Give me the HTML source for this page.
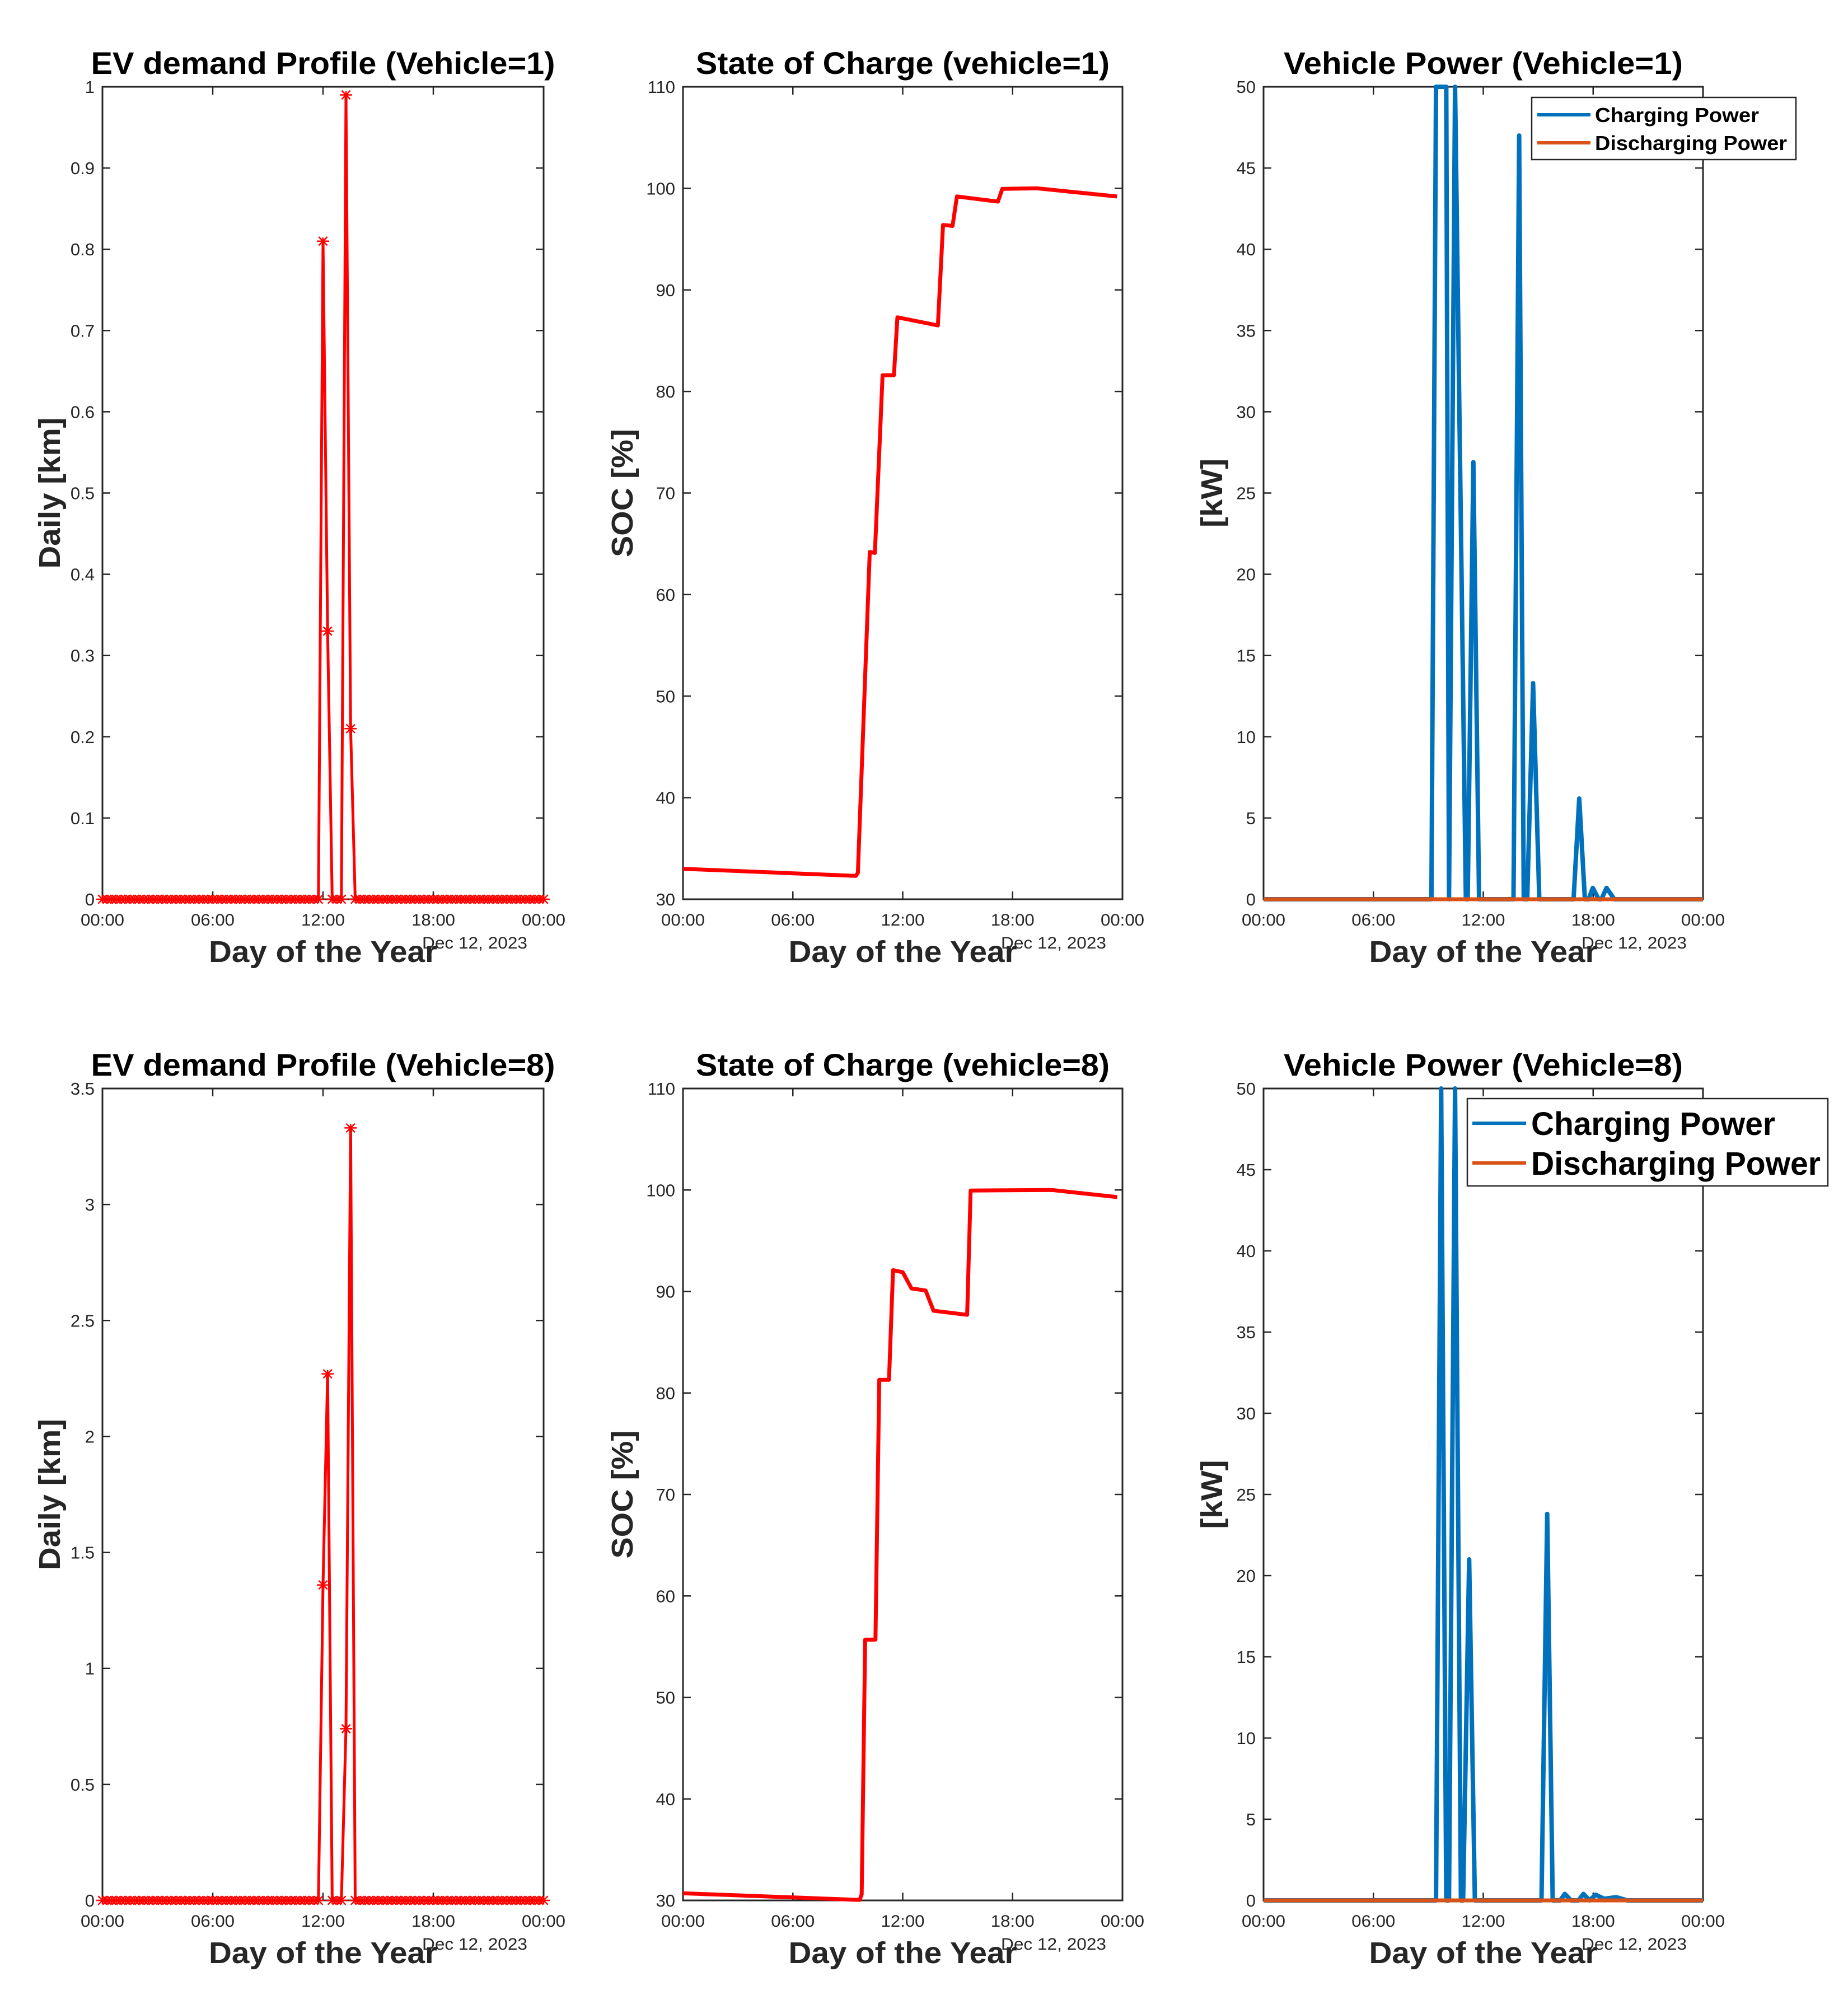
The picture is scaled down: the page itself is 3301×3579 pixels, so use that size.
<!DOCTYPE html>
<html><head><meta charset="utf-8"><style>
html,body{margin:0;padding:0;background:#fff;}
svg{display:block;font-family:"Liberation Sans",Arial,sans-serif;}
</style></head><body>
<svg id="fig" width="3301" height="3579" viewBox="0 0 3301 3579" xmlns="http://www.w3.org/2000/svg">
<rect x="0" y="0" width="3301" height="3579" fill="#fff"/>
</svg>
<script>
// ---- Data ----
const xTickHours = [0, 6, 12, 18, 24];
const xTickLabels = ["00:00", "06:00", "12:00", "18:00", "00:00"];
const ev1Ticks = [0,0.1,0.2,0.3,0.4,0.5,0.6,0.7,0.8,0.9,1];
const ev1TickLabels = ["0","0.1","0.2","0.3","0.4","0.5","0.6","0.7","0.8","0.9","1"];
const ev8Ticks = [0,0.5,1,1.5,2,2.5,3,3.5];
const ev8TickLabels = ["0","0.5","1","1.5","2","2.5","3","3.5"];
const socTicks = [30,40,50,60,70,80,90,100,110];
const socTickLabels = ["30","40","50","60","70","80","90","100","110"];
const powTicks = [0,5,10,15,20,25,30,35,40,45,50];
const powTickLabels = ["0","5","10","15","20","25","30","35","40","45","50"];
// EV demand: nonzero values at 15-min slots (hour -> km), others 0
const ev1NonzeroHours = [12.0, 12.25, 13.25, 13.5];
const ev1NonzeroValues = [0.81, 0.33, 0.99, 0.21];
const ev8NonzeroHours = [12.0, 12.25, 13.25, 13.5];
const ev8NonzeroValues = [1.36, 2.27, 0.74, 3.33];
// SOC
const soc1Hours = [0,9.44,9.55,10.2,10.48,10.9,11.52,11.71,13.92,14.2,14.72,14.96,17.2,17.44,19.36,23.7];
const soc1Values = [33.0,32.3,32.6,64.2,64.1,81.6,81.6,87.3,86.5,96.4,96.3,99.2,98.7,99.95,100,99.2];
const soc8Hours = [0,9.65,9.76,9.95,10.51,10.72,11.25,11.47,12.0,12.48,13.25,13.68,15.52,15.71,20.16,23.71];
const soc8Values = [30.7,30.05,30.6,55.7,55.7,81.3,81.3,92.1,91.9,90.3,90.1,88.1,87.7,99.95,100,99.3];
// Power
const pow1Hours = [0,9.17,9.42,9.98,10.13,10.46,11.05,11.15,11.46,11.77,13.65,13.96,14.21,14.4,14.72,15.06,16.93,17.24,17.55,17.75,17.98,18.3,18.45,18.73,19.16,24];
const pow1Values = [0,0,50,50,0,50,0,0,26.9,0,0,47,0,0,13.3,0,0,6.2,0,0,0.7,0,0,0.7,0,0];
const pow8Hours = [0,9.42,9.70,9.98,10.13,10.46,10.78,10.9,11.23,11.54,15.18,15.49,15.79,16.2,16.45,16.8,17.2,17.47,17.8,18.14,18.6,19.26,19.87,24];
const pow8Values = [0,0,50,0,0,50,0,0,21.0,0,0,23.8,0,0,0.4,0,0,0.4,0,0.35,0.1,0.2,0,0];
const disHours = [0,24];
const disValues = [0,0];

const NS = "http://www.w3.org/2000/svg";
const svg = document.getElementById('fig');
function mk(tag, attrs, parent){
  const e = document.createElementNS(NS, tag);
  for (const k in attrs) e.setAttribute(k, attrs[k]);
  (parent||svg).appendChild(e);
  return e;
}
const cols = [[183,971],[1220,2005],[2257,3042]];
const rows = [[155,1606],[1944,3394]];

function makeAxes(ci, ri, ymin, ymax, yticks, ylabels, title, titleLen, ylab, ylabLen, ylabX, name){
  const [L,R] = cols[ci], [T,B] = rows[ri];
  const g = mk('g', {});
  
  
  const sx = h => L + (R-L)*h/24;
  const sy = v => B - (B-T)*(v-ymin)/(ymax-ymin);
  xTickHours.forEach((h,i)=>{
    const x = sx(h);
    const t1 = mk('line',{x1:x,y1:B,x2:x,y2:B-14,stroke:'#262626','stroke-width':2.5},g);
     
    mk('line',{x1:x,y1:T,x2:x,y2:T+14,stroke:'#262626','stroke-width':2.5},g);
    const tl = mk('text',{x:x,y:B+47,'font-size':30,fill:'#262626','text-anchor':'middle',textLength:78,lengthAdjust:'spacingAndGlyphs'},g);
    tl.textContent = xTickLabels[i];
     
  });
  yticks.forEach((v,i)=>{
    const y = sy(v);
    mk('line',{x1:L,y1:y,x2:L+14,y2:y,stroke:'#262626','stroke-width':2.5},g);
    mk('line',{x1:R,y1:y,x2:R-14,y2:y,stroke:'#262626','stroke-width':2.5},g);
    const tl = mk('text',{x:L-14,y:y+11,'font-size':31,fill:'#262626','text-anchor':'end'},g);
    tl.textContent = ylabels[i];
     
  });
  const box = mk('rect',{x:L,y:T,width:R-L,height:B-T,fill:'none',stroke:'#262626','stroke-width':3},g);
   
  const tt = mk('text',{x:(L+R)/2,y:T-23,'font-size':56,'font-weight':'bold',fill:'#000','text-anchor':'middle',textLength:titleLen,lengthAdjust:'spacingAndGlyphs'},g);
  tt.textContent = title;
   
  const xl = mk('text',{x:(L+R)/2,y:B+112,'font-size':54,'font-weight':'bold',fill:'#262626','text-anchor':'middle',textLength:408,lengthAdjust:'spacingAndGlyphs'},g);
  xl.textContent = 'Day of the Year';
   
  const dl = mk('text',{x:R-217,y:B+88,'font-size':30,fill:'#262626','text-anchor':'start',textLength:188,lengthAdjust:'spacingAndGlyphs'},g);
  dl.textContent = 'Dec 12, 2023';
   
  const cy = (T+B)/2;
  const yl = mk('text',{x:0,y:0,'font-size':54,'font-weight':'bold',fill:'#262626','text-anchor':'middle',textLength:ylabLen,lengthAdjust:'spacingAndGlyphs',transform:`translate(${ylabX},${cy}) rotate(-90)`},g);
  yl.textContent = ylab;
   
  return {g,sx,sy};
}
function drawLine(ax, hours, values, color, width, name){
  const pts = hours.map((h,i)=>ax.sx(h).toFixed(1)+','+ax.sy(values[i]).toFixed(1)).join(' ');
  const p = mk('polyline',{points:pts,fill:'none',stroke:color,'stroke-width':width,'stroke-linejoin':'round'},ax.g);
  
  
  return p;
}
function evSeries(nzH, nzV){
  const hs=[], vs=[];
  for(let k=0;k<=96;k++){
    const h=k*0.25;
    let v=0;
    nzH.forEach((hh,i)=>{ if(Math.abs(hh-h)<1e-6) v=nzV[i]; });
    hs.push(h); vs.push(v);
  }
  return [hs,vs];
}
function drawStars(ax, hs, vs){
  hs.forEach((h,i)=>{
    const x=ax.sx(h), y=ax.sy(vs[i]), r=11;
    const s = mk('path',{d:`M${x-r},${y}H${x+r}M${x-r*0.7},${y-r*0.7}L${x+r*0.7},${y+r*0.7}M${x-r*0.7},${y+r*0.7}L${x+r*0.7},${y-r*0.7}M${x},${y-r*0.6}V${y+r*0.6}`,stroke:'#ff0000','stroke-width':2.5,fill:'none'},ax.g);
    
    
  });
}

const a1 = makeAxes(0,0,0,1,ev1Ticks,ev1TickLabels,'EV demand Profile (Vehicle=1)',829,'Daily [km]',270,107,'ev-demand-chart-v1');
let [h1,v1] = evSeries(ev1NonzeroHours, ev1NonzeroValues);
drawLine(a1,h1,v1,'#ff0000',5,'demand-line');
drawStars(a1,h1,v1);
const a2 = makeAxes(0,1,0,3.5,ev8Ticks,ev8TickLabels,'EV demand Profile (Vehicle=8)',829,'Daily [km]',270,107,'ev-demand-chart-v8');
let [h8,v8] = evSeries(ev8NonzeroHours, ev8NonzeroValues);
drawLine(a2,h8,v8,'#ff0000',5,'demand-line');
drawStars(a2,h8,v8);
const a3 = makeAxes(1,0,30,110,socTicks,socTickLabels,'State of Charge (vehicle=1)',739,'SOC [%]',229,1130,'soc-chart-v1');
drawLine(a3,soc1Hours,soc1Values,'#ff0000',7,'soc-line');
const a4 = makeAxes(1,1,30,110,socTicks,socTickLabels,'State of Charge (vehicle=8)',739,'SOC [%]',229,1130,'soc-chart-v8');
drawLine(a4,soc8Hours,soc8Values,'#ff0000',7,'soc-line');
const a5 = makeAxes(2,0,0,50,powTicks,powTickLabels,'Vehicle Power (Vehicle=1)',713,'[kW]',123,2183,'power-chart-v1');
drawLine(a5,pow1Hours,pow1Values,'#0072BD',8,'charging-power-line');
drawLine(a5,disHours,disValues,'#D95319',7,'discharging-power-line');
const a6 = makeAxes(2,1,0,50,powTicks,powTickLabels,'Vehicle Power (Vehicle=8)',713,'[kW]',123,2183,'power-chart-v8');
drawLine(a6,pow8Hours,pow8Values,'#0072BD',8,'charging-power-line');
drawLine(a6,disHours,disValues,'#D95319',7,'discharging-power-line');

function legend(x1,y1,x2,y2,lx1,lx2,tx,r1,r2,fs,len1,len2){
  const g = mk('g',{});
  
  
  mk('rect',{x:x1,y:y1,width:x2-x1,height:y2-y1,fill:'#fff',stroke:'#262626','stroke-width':2.5},g);
  mk('line',{x1:lx1,y1:r1,x2:lx2,y2:r1,stroke:'#0072BD','stroke-width':6},g);
  mk('line',{x1:lx1,y1:r2,x2:lx2,y2:r2,stroke:'#D95319','stroke-width':6},g);
  const t1 = mk('text',{x:tx,y:r1+fs*0.36,'font-size':fs,'font-weight':'bold',fill:'#000',textLength:len1,lengthAdjust:'spacingAndGlyphs'},g);
  t1.textContent='Charging Power';
   
  const t2 = mk('text',{x:tx,y:r2+fs*0.36,'font-size':fs,'font-weight':'bold',fill:'#000',textLength:len2,lengthAdjust:'spacingAndGlyphs'},g);
  t2.textContent='Discharging Power';
   
}
legend(2736,174,3208,285,2746,2841,2849,205,255,36,293,343);
legend(2621,1962,3265,2118,2630,2726,2735,2006,2077,58,436,517);
</script>
</body></html>
